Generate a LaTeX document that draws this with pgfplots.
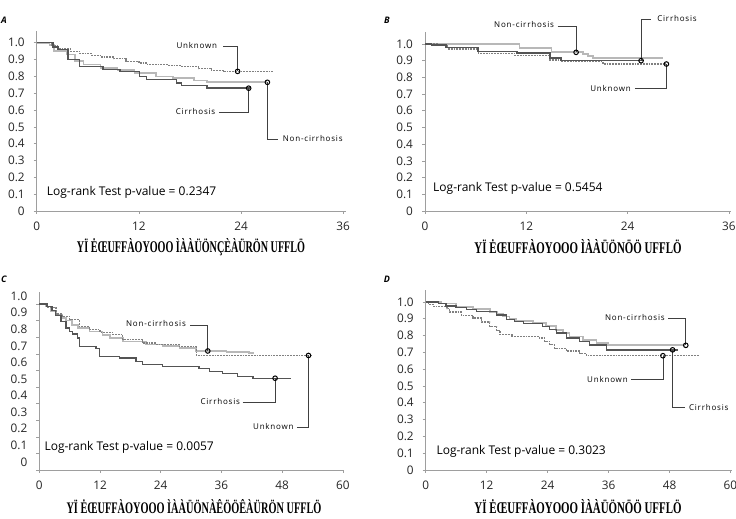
\documentclass[border=0pt]{standalone}
\usepackage{pgfplots}
\pgfplotsset{compat=1.18}
\usepackage{fontspec}
\setmainfont{Open Sans}
\newfontfamily\lblfont[LetterSpace=10]{Open Sans}
\newfontfamily\garb{Liberation Serif}
\definecolor{cir}{gray}{0.33}
\definecolor{non}{gray}{0.72}
\definecolor{unk}{gray}{0.5}
\definecolor{ax}{gray}{0.62}
\tikzset{co/.style={black!75, line width=0.8pt}}
\pgfplotsset{
  km/.style={
    scale only axis, axis lines=left, axis line style={-, ax, line width=0.7pt},
    ymin=0, ymax=1.07,
    ytick={0,0.1,0.2,0.3,0.4,0.5,0.6,0.7,0.8,0.9,1.0},
    yticklabels={0,0.1,0.2,0.3,0.4,0.5,0.6,0.7,0.8,0.9,1.0},
    tick align=outside, major tick length=3pt, tick style={ax, line width=0.6pt},
    ticklabel style={font=\fontsize{11.8}{13}\selectfont, text=black!85},
    yticklabel style={xshift=-5.5pt}, xticklabel style={yshift=-4pt},
    clip=false, /pgf/number format/assume math mode=true,
  },
  cirs/.style={const plot, no marks, draw=cir, line width=1.4pt},
  nons/.style={const plot, no marks, draw=non, line width=1.7pt},
  unks/.style={const plot, no marks, draw=unk, line width=1.3pt, dash pattern=on 1.8pt off 1pt},
  mk/.style={only marks, mark=o, mark size=2.3pt, mark options={draw=black, fill=white, line width=1pt}},
}
\newcommand{\lbl}{\lblfont\fontsize{8}{9}\selectfont}
\newcommand{\lr}{\fontsize{12}{14}\selectfont}
\begin{document}
\begin{tikzpicture}[x=1pt,y=1pt]
\useasboundingbox (0,0) rectangle (736,519);
% ---------------- A
\begin{axis}[km, at={(36.7pt,308pt)}, anchor=south west, width=309pt, height=180pt,
  xmin=0, xmax=36.3, xtick={0,12,24,36}]
\addplot[nons] coordinates {(0,1.0) (1.5,0.985) (2.0,0.95) (3.5,0.93) (4.5,0.89) (5.5,0.87) (7.5,0.85) (9.5,0.84) (11.5,0.82) (14,0.80) (16,0.79) (18.5,0.775) (20,0.765) (27.1,0.765)};
\addplot[unks] coordinates {(0,1.0) (1.8,0.985) (2.6,0.965) (4.0,0.95) (5.0,0.935) (6.5,0.925) (7.5,0.915) (9.0,0.905) (10.5,0.89) (12.0,0.88) (13.0,0.87) (15.5,0.865) (17.0,0.86) (19.0,0.845) (20.5,0.835) (22,0.83) (27.8,0.83)};
\addplot[cirs] coordinates {(0,1.0) (1.9,0.975) (2.5,0.96) (3.7,0.9) (5.0,0.86) (7.8,0.84) (9.8,0.83) (12.1,0.80) (12.9,0.78) (16.4,0.76) (17,0.745) (20,0.73) (25.0,0.73)};
\draw[co] (axis cs:21.9,0.978) -| (axis cs:23.6,0.83);
\draw[co] (axis cs:21.4,0.585) -| (axis cs:24.9,0.73);
\draw[co] (axis cs:27.1,0.765) |- (axis cs:28.4,0.427);
\addplot[mk] coordinates {(23.6,0.83) (24.9,0.73) (27.1,0.765)};
\node[anchor=east, inner sep=0, font=\lbl] at (axis cs:21.2,0.984) {Unknown};
\node[anchor=east, inner sep=0, font=\lbl] at (axis cs:21.0,0.59) {Cirrhosis};
\node[anchor=west, inner sep=0, font=\lbl] at (axis cs:28.9,0.43) {Non-cirrhosis};
\node[anchor=west, inner sep=0, font=\lr] at (axis cs:1.18,0.111) {Log-rank Test p-value = 0.2347};
\end{axis}
% ---------------- B
\begin{axis}[km, at={(425pt,308pt)}, anchor=south west, width=306.4pt, height=178.7pt,
  xmin=0, xmax=36.3, xtick={0,12,24,36}]
\addplot[nons] coordinates {(0,1.0) (11.2,1.0) (11.2,0.975) (15,0.95) (18.7,0.94) (19.3,0.93) (19.9,0.916) (28.2,0.916)};
\addplot[unks] coordinates {(0,1.0) (1.5,0.99) (2.7,0.97) (6.3,0.945) (10.6,0.93) (14.8,0.905) (16.1,0.895) (21.1,0.88) (28.6,0.88)};
\addplot[cirs] coordinates {(0,1.0) (0.8,0.995) (2.5,0.98) (6.3,0.955) (10.9,0.945) (14.8,0.915) (16.1,0.90) (26.0,0.90)};
\draw[co] (axis cs:15.7,1.108) -| (axis cs:17.9,0.95);
\draw[co] (axis cs:25.6,0.90) |- (axis cs:26.8,1.148);
\draw[co] (axis cs:24.85,0.732) -| (axis cs:28.6,0.88);
\addplot[mk] coordinates {(17.9,0.95) (25.6,0.90) (28.6,0.88)};
\node[anchor=east, inner sep=0, font=\lbl] at (axis cs:15.3,1.114) {Non-cirrhosis};
\node[anchor=west, inner sep=0, font=\lbl] at (axis cs:27.5,1.154) {Cirrhosis};
\node[anchor=east, inner sep=0, font=\lbl] at (axis cs:24.4,0.732) {Unknown};
\node[anchor=west, inner sep=0, font=\lr] at (axis cs:0.95,0.136) {Log-rank Test p-value = 0.5454};
\end{axis}
% ---------------- C
\begin{axis}[km, at={(39.3pt,49pt)}, anchor=south west, width=304.6pt, height=177.6pt,
  xmin=0, xmax=60.2, xtick={0,12,24,36,48,60}, yticklabel style={yshift=8pt}]
\addplot[nons] coordinates {(0,1.0) (1.2,0.985) (2.2,0.96) (3.3,0.935) (4.5,0.915) (5.3,0.9) (6.5,0.875) (7.6,0.855) (9.9,0.835) (12.5,0.815) (14.0,0.795) (16.5,0.775) (21.1,0.757) (24.5,0.745) (27.7,0.733) (31.0,0.715) (37.0,0.71) (41.5,0.705) (42.5,0.705)};
\addplot[unks] coordinates {(0,1.0) (1.5,0.98) (3.3,0.94) (4.5,0.925) (6.0,0.905) (7.9,0.865) (9.9,0.845) (12,0.83) (14.5,0.815) (16.5,0.785) (20.4,0.765) (23.0,0.757) (27.7,0.743) (31.0,0.69) (53.8,0.69)};
\addplot[cirs] coordinates {(0,1.0) (1.5,0.985) (2.5,0.96) (3.2,0.93) (4.3,0.895) (5.3,0.855) (6.0,0.835) (6.6,0.82) (7.6,0.795) (8.0,0.745) (11.2,0.733) (11.9,0.685) (15.8,0.675) (19.1,0.655) (20.4,0.635) (24.4,0.625) (31.6,0.613) (33.6,0.595) (36.2,0.583) (39.2,0.565) (42.2,0.553) (49.7,0.553)};
\draw[co] (axis cs:29.8,0.873) -| (axis cs:33.3,0.717);
\draw[co] (axis cs:40.2,0.405) -| (axis cs:46.6,0.553);
\draw[co] (axis cs:50.9,0.257) -| (axis cs:53.2,0.69);
\addplot[mk] coordinates {(33.3,0.717) (46.6,0.553) (53.2,0.69)};
\node[anchor=east, inner sep=0, font=\lbl] at (axis cs:29.0,0.884) {Non-cirrhosis};
\node[anchor=east, inner sep=0, font=\lbl] at (axis cs:39.7,0.411) {Cirrhosis};
\node[anchor=east, inner sep=0, font=\lbl] at (axis cs:50.3,0.261) {Unknown};
\node[anchor=west, inner sep=0, font=\lr] at (axis cs:1.0,0.134) {Log-rank Test p-value = 0.0057};
\end{axis}
% ---------------- D
\begin{axis}[km, at={(425.7pt,49pt)}, anchor=south west, width=305.8pt, height=179.8pt,
  xmin=0, xmax=60.2, xtick={0,12,24,36,48,60}]
\addplot[nons] coordinates {(0,1.0) (3,0.99) (6,0.972) (9.3,0.958) (12.6,0.942) (14,0.93) (15.2,0.913) (16.5,0.9) (17.8,0.885) (21.1,0.873) (23.7,0.859) (25.7,0.835) (27,0.815) (28.3,0.795) (31,0.775) (33.6,0.755) (35.9,0.742) (51.0,0.742)};
\addplot[unks] coordinates {(0,1.0) (0.5,0.985) (1.5,0.975) (4.2,0.96) (4.7,0.94) (7,0.92) (9.3,0.905) (11,0.88) (12.6,0.855) (14,0.83) (14.6,0.805) (17,0.795) (22.4,0.785) (23.4,0.765) (24.4,0.745) (25.4,0.725) (27.7,0.708) (30.3,0.694) (31.6,0.68) (53.9,0.68)};
\addplot[cirs] coordinates {(0,1.0) (2.5,0.99) (4,0.975) (6,0.966) (8,0.955) (10,0.942) (13.9,0.923) (15.9,0.895) (17.5,0.885) (19.2,0.873) (23,0.855) (24.4,0.835) (25.7,0.815) (27.7,0.785) (30.3,0.765) (32.3,0.745) (35.6,0.715) (49.7,0.715)};
\draw[co] (axis cs:47.7,0.901) -| (axis cs:51.2,0.742);
\draw[co] (axis cs:40.5,0.54) -| (axis cs:46.7,0.68);
\draw[co] (axis cs:48.6,0.715) |- (axis cs:51.0,0.373);
\addplot[mk] coordinates {(51.2,0.742) (48.6,0.715) (46.7,0.68)};
\node[anchor=east, inner sep=0, font=\lbl] at (axis cs:47.1,0.907) {Non-cirrhosis};
\node[anchor=east, inner sep=0, font=\lbl] at (axis cs:39.8,0.54) {Unknown};
\node[anchor=west, inner sep=0, font=\lbl] at (axis cs:51.8,0.373) {Cirrhosis};
\node[anchor=west, inner sep=0, font=\lr] at (axis cs:2.1,0.113) {Log-rank Test p-value = 0.3023};
\end{axis}
% panel letters
\node[font=\fontsize{9}{10}\selectfont\bfseries\itshape] at (4,499) {A};
\node[font=\fontsize{9}{10}\selectfont\bfseries\itshape] at (387,499) {B};
\node[font=\fontsize{9}{10}\selectfont\bfseries\itshape] at (4,240) {C};
\node[font=\fontsize{9}{10}\selectfont\bfseries\itshape] at (387,240) {D};
% garbled axis titles
\node[inner sep=0] at (191,272) {\resizebox{228pt}{14pt}{\garb\bfseries YÏ ĖŒUFFÀOYOOO ÌÀÀÜÖNÇÈÀÜRÖN UFFLÖ}};
\node[inner sep=0] at (578,272) {\resizebox{207pt}{14pt}{\garb\bfseries YÏ ĖŒUFFÀOYOOO ÌÀÀÜÖNÖÖ UFFLÖ}};
\node[inner sep=0] at (194,12) {\resizebox{255pt}{14pt}{\garb\bfseries YÏ ĖŒUFFÀOYOOO ÌÀÀÜÖNÀÊÖÖÊÀÜRÖN UFFLÖ}};
\node[inner sep=0] at (578,12) {\resizebox{207pt}{14pt}{\garb\bfseries YÏ ĖŒUFFÀOYOOO ÌÀÀÜÖNÖÖ UFFLÖ}};
\end{tikzpicture}
\end{document}
